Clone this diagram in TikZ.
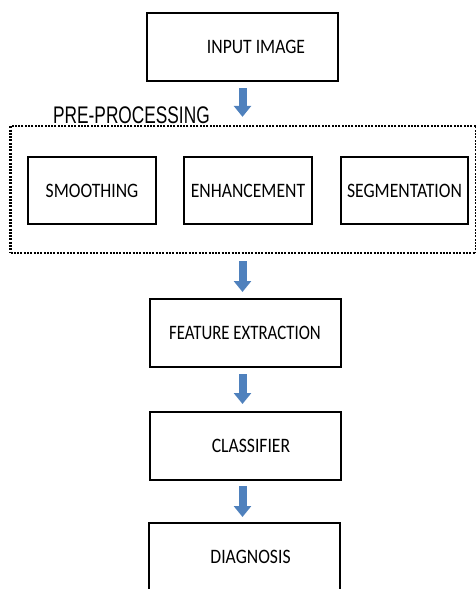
\documentclass[tikz,border=0pt]{standalone}
\usepackage{fontspec}
\setmainfont{Carlito}[FakeStretch=0.86]
\newfontfamily\narrowfont{Carlito}[FakeStretch=0.82]
\newfontfamily\prefont{Liberation Sans}[FakeStretch=0.72]
\usetikzlibrary{arrows.meta}
\definecolor{flowblue}{RGB}{79,129,189}

\begin{document}
\begin{tikzpicture}[x=1pt, y=-1pt, font=\fontsize{20.5}{24}\selectfont,
    mainbox/.style={
        draw, line width=2pt, minimum width=191pt, minimum height=68pt,
        inner sep=0pt
    },
    subbox/.style={
        draw, line width=1.2pt, minimum width=128pt, minimum height=67pt,
        inner sep=0pt
    },
    preframe/.style={
        draw, line width=2.3pt, dash pattern=on 2pt off 1.3pt,
        minimum width=466pt, minimum height=127pt, inner sep=0pt
    },
    flow/.style={flowblue, line width=8pt, -{Triangle[width=17pt,length=11pt]}},
    grouplab/.style={font=\prefont\fontsize{24}{28}\selectfont, inner sep=0pt,
        anchor=base west},
]
    \useasboundingbox (0,0) rectangle (475,589);

    % --- entrada ---
    \node[mainbox] (inp) at (242.5,47) {\hspace*{27pt}INPUT IMAGE};

    % --- bloque de pre-procesado ---
    \node[preframe] (pre) at (243.5,189.5) {};
    \node[grouplab] (prelab) at (53,123) {PRE-PROCESSING};
    \node[subbox] (smooth)  at (92,190.5)    {SMOOTHING};
    \node[subbox] (enhance) at (248,190.5)   {ENHANCEMENT};
    \node[subbox, minimum width=127pt] (segment) at (404.5,190.5) {SEGMENTATION};

    % --- columna de salida ---
    \node[mainbox] (feat)    at (245,333)   {\narrowfont FEATURE EXTRACTION};
    \node[mainbox] (classif) at (245,446)   {\hspace*{12pt}CLASSIFIER};
    \node[mainbox] (diag)    at (244.5,557) {\hspace*{12pt}DIAGNOSIS};

    % --- flechas de bloque ---
    \draw[flow, shorten <=6pt, shorten >=8pt] (inp.south) -- (inp.south |- pre.north);
    \draw[flow, shorten <=7pt, shorten >=6pt] (pre.south -| inp.south) -- (inp.south |- feat.north);
    \draw[flow, shorten <=6pt, shorten >=7pt] (inp.south |- feat.south) -- (inp.south |- classif.north);
    \draw[flow, shorten <=5pt, shorten >=5pt] (inp.south |- classif.south) -- (inp.south |- diag.north);

\end{tikzpicture}
\end{document}
